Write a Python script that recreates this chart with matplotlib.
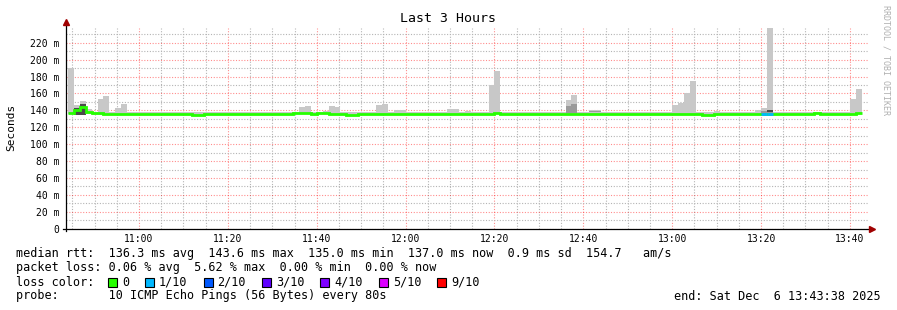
import numpy as np
import matplotlib
matplotlib.use('Agg')
import matplotlib.pyplot as plt
from matplotlib.patches import Rectangle


def hms(s):
    h, m, sec = [int(v) for v in s.split(':')]
    return h * 3600 + m * 60 + sec


# time frame of the graph (probe step = 80 s)
start_time = '10:43:38'
end_time = '13:43:38'
first_step = '10:44:00'
step_len = 80

# median rtt per step [ms]
median = [
    136.5, 141.0, 143.6, 138.5, 137.5, 136.5, 136.0, 136.3, 136.3, 136.3,
    136.3, 136.3, 136.3, 136.3, 136.3, 136.3, 136.3, 136.3, 136.3, 136.3,
    136.3, 135.0, 135.0, 136.3, 136.3, 136.3, 136.3, 136.3, 136.3, 136.3,
    136.3, 136.3, 136.3, 136.3, 136.3, 136.3, 136.3, 136.3, 137.3, 137.3,
    137.3, 136.3, 137.3, 137.3, 136.3, 136.3, 136.3, 135.0, 135.0, 136.3,
    135.2, 135.2, 135.2, 136.3, 136.3, 136.3, 136.3, 135.2, 136.3, 136.3,
    136.3, 136.3, 136.3, 136.3, 136.3, 136.3, 136.3, 136.3, 136.3, 136.3,
    136.3, 136.3, 137.3, 136.3, 136.3, 136.3, 136.3, 136.3, 136.3, 136.3,
    136.3, 136.3, 136.3, 136.3, 136.3, 136.3, 136.3, 136.3, 136.3, 136.3,
    136.3, 136.3, 136.3, 136.3, 136.3, 136.3, 136.3, 136.3, 136.3, 136.3,
    136.3, 136.3, 136.3, 136.3, 136.3, 136.3, 136.3, 135.0, 135.0, 136.3,
    136.3, 136.3, 135.2, 135.2, 135.2, 136.0, 136.0, 136.0, 136.0, 135.2,
    135.2, 135.2, 136.3, 136.3, 136.3, 136.3, 137.5, 136.3, 136.3, 136.3,
    136.3, 136.3, 136.3, 137.0,
]

# slowest ping per step [ms]
ping_hi = [
    190.0, 146.0, 151.0, 141.5, 138.0, 153.5, 157.5, 137.6, 143.0, 148.0,
    137.6, 137.6, 137.6, 137.6, 137.6, 137.6, 137.6, 137.6, 137.6, 137.6,
    137.6, 137.6, 137.6, 137.6, 137.6, 137.6, 137.6, 137.6, 137.6, 137.6,
    137.6, 137.6, 137.6, 138.5, 137.6, 137.6, 138.2, 138.2, 137.8, 144.0,
    145.2, 137.6, 137.6, 139.0, 145.0, 144.0, 137.6, 137.6, 137.6, 137.6,
    137.6, 137.6, 146.5, 147.6, 137.6, 140.5, 140.5, 137.6, 137.6, 138.5,
    137.6, 138.5, 137.6, 137.6, 141.6, 141.3, 137.6, 139.3, 137.6, 137.6,
    137.6, 170.0, 186.5, 137.6, 137.6, 137.6, 137.6, 137.6, 137.6, 137.6,
    137.6, 137.6, 137.6, 137.6, 152.3, 158.2, 137.6, 137.6, 140.3, 140.3,
    137.6, 137.6, 137.6, 137.6, 137.6, 137.6, 137.6, 137.6, 137.6, 137.6,
    137.6, 137.6, 146.4, 149.0, 160.6, 174.8, 137.6, 137.6, 137.6, 139.0,
    137.6, 137.6, 137.6, 137.6, 137.6, 137.6, 140.5, 143.0, 237.5, 137.6,
    137.6, 137.6, 137.6, 137.6, 137.6, 137.6, 137.6, 137.6, 137.6, 137.6,
    137.6, 137.6, 153.5, 165.3,
]

# fastest ping per step [ms]
ping_lo = [
    135.6, 134.8, 135.0, 135.6, 134.5, 134.5, 134.3, 134.3, 135.6, 135.6,
    135.6, 135.6, 135.6, 135.6, 135.6, 135.6, 135.6, 135.6, 134.3, 134.3,
    134.3, 134.3, 134.3, 135.6, 134.3, 134.3, 134.3, 134.3, 134.3, 134.3,
    134.3, 134.3, 135.6, 135.6, 135.6, 135.6, 135.6, 135.6, 135.6, 135.6,
    135.6, 135.6, 135.6, 135.6, 135.6, 135.6, 135.6, 134.3, 134.3, 135.6,
    134.3, 134.3, 134.3, 134.3, 134.3, 135.6, 134.3, 134.3, 134.3, 134.3,
    134.3, 134.3, 135.6, 134.3, 134.3, 134.3, 134.3, 135.6, 135.6, 135.6,
    134.3, 134.3, 135.6, 135.6, 134.3, 135.6, 135.6, 134.3, 134.3, 135.6,
    134.3, 134.3, 135.6, 134.3, 134.3, 135.6, 135.6, 135.6, 135.6, 135.6,
    135.6, 134.3, 134.3, 134.3, 135.6, 135.6, 135.6, 135.6, 135.6, 134.3,
    134.3, 134.3, 135.6, 135.6, 135.6, 135.6, 134.3, 134.3, 134.3, 135.6,
    135.6, 135.6, 134.3, 134.3, 134.3, 135.6, 135.6, 135.6, 135.6, 134.3,
    134.3, 134.3, 134.3, 135.6, 135.6, 135.6, 135.6, 135.6, 135.6, 135.6,
    135.6, 134.3, 134.3, 135.6,
]

# denser smoke (several pings close together)
dark_steps = [1, 2, 118]
dark_lo = [135.0, 135.0, 138.6]
dark_hi = [142.5, 147.0, 140.0]
mid_steps = [84, 85, 88, 89, 117, 118]
mid_lo = [137.0, 137.0, 138.3, 138.3, 137.0, 137.5]
mid_hi = [145.0, 147.6, 139.6, 139.0, 139.0, 141.0]

# steps with packet loss
loss_steps = [117, 118]
loss_level = ['1/10', '1/10']

loss_names = ['0', '1/10', '2/10', '3/10', '4/10', '5/10', '9/10']
loss_colors = ['#26ff00', '#00b8ff', '#0059ff', '#5e00ff', '#7e00ff', '#dd00ff', '#ff0000']

stats_rtt = 'median rtt:  136.3 ms avg  143.6 ms max  135.0 ms min  137.0 ms now  0.9 ms sd  154.7   am/s'
stats_loss = 'packet loss: 0.06 % avg  5.62 % max  0.00 % min  0.00 % now'
probe_text = 'probe:       10 ICMP Echo Pings (56 Bytes) every 80s'
end_text = 'end: Sat Dec  6 13:43:38 2025'

W, H = 897, 310
mono = 'DejaVu Sans Mono'

fig = plt.figure(figsize=(W / 100, H / 100), dpi=100)
fig.patch.set_facecolor('white')
ax = fig.add_axes([66 / W, (H - 228.7) / H, 802 / W, 200.7 / H])

t0 = hms(start_time)
t1 = hms(end_time)
edges = hms(first_step) + step_len * np.arange(len(median) + 1)

# smoke
ax.bar(edges[:-1], np.array(ping_hi) - np.array(ping_lo), bottom=ping_lo,
       width=step_len, align='edge', color='#c8c8c8', linewidth=0, zorder=2)
ax.bar(edges[mid_steps], np.array(mid_hi) - np.array(mid_lo), bottom=mid_lo,
       width=step_len, align='edge', color='#9a9a9a', linewidth=0, zorder=3)
ax.bar(edges[dark_steps], np.array(dark_hi) - np.array(dark_lo), bottom=dark_lo,
       width=step_len, align='edge', color='#4a4a4a', linewidth=0, zorder=3)

# median line, coloured by loss
ax.stairs(median, edges, baseline=None, color=loss_colors[0], lw=2.0, zorder=4)
for k, lvl in zip(loss_steps, loss_level):
    ax.hlines(median[k], edges[k], edges[k + 1], color=loss_colors[loss_names.index(lvl)],
              lw=2.0, zorder=5, capstyle='butt')

ax.set_xlim(t0 - 4, t1 + 26)
ax.set_ylim(0, 237.5)

xt = np.arange(hms('11:00:00'), t1, 1200)
ax.set_xticks(xt)
ax.set_xticklabels(['%d:%02d' % (v // 3600, (v % 3600) // 60) for v in xt])
ax.set_xticks(np.arange(hms('10:45:00'), t1 + 60, 300), minor=True)
yt = np.arange(0, 221, 20)
ax.set_yticks(yt)
ax.set_yticklabels(['0' if v == 0 else '%d m' % v for v in yt])
ax.set_yticks(np.arange(10, 236, 10), minor=True)

ax.grid(which='minor', color='#b4b4b4', linestyle=(0, (1, 1.5)), lw=0.8)
ax.grid(which='major', color='#ff0000', alpha=0.45, linestyle=(0, (1, 1.5)), lw=0.8)
ax.set_axisbelow(True)

ax.tick_params(which='both', length=0)
ax.tick_params(axis='x', pad=4, labelsize=7)
ax.tick_params(axis='y', pad=5, labelsize=7)
for lab in ax.get_xticklabels() + ax.get_yticklabels():
    lab.set_fontfamily(mono)
for s in ax.spines.values():
    s.set_visible(False)

# axis lines with arrows
ax.plot([0, 0], [-0.012, 1.03], transform=ax.transAxes, color='black', lw=0.9, clip_on=False, zorder=6)
ax.plot([-0.004, 1.004], [0, 0], transform=ax.transAxes, color='black', lw=0.9, clip_on=False, zorder=6)
ax.plot(0, 1.03, marker='^', ms=4, color='#a00000', transform=ax.transAxes, clip_on=False, zorder=7)
ax.plot(1.005, 0, marker='>', ms=4, color='#a00000', transform=ax.transAxes, clip_on=False, zorder=7)

fig.text(448 / W, 1 - 19 / H, 'Last 3 Hours', ha='center', va='center', fontsize=9.5, family=mono)
fig.text(11 / W, 1 - 127 / H, 'Seconds', rotation=90, ha='center', va='center', fontsize=8, family=mono)
fig.text(886 / W, 1 - 60 / H, 'RRDTOOL / TOBI OETIKER', rotation=270, ha='center', va='center',
         fontsize=6, family=mono, color='#b0b0b0')

fs = 8.5
cw = 7.1
fig.text(16 / W, 1 - 254 / H, stats_rtt, ha='left', va='center', fontsize=fs, family=mono)
fig.text(16 / W, 1 - 268 / H, stats_loss, ha='left', va='center', fontsize=fs, family=mono)
fig.text(16 / W, 1 - 282 / H, 'loss color:', ha='left', va='center', fontsize=fs, family=mono)
fig.text(16 / W, 1 - 296 / H, probe_text, ha='left', va='center', fontsize=fs, family=mono)
fig.text(881 / W, 1 - 296 / H, end_text, ha='right', va='center', fontsize=fs, family=mono)

x = 108
for name, c in zip(loss_names, loss_colors):
    fig.add_artist(Rectangle((x / W, 1 - 286.5 / H), 9 / W, 9 / H, transform=fig.transFigure,
                             facecolor=c, edgecolor='black', lw=0.8))
    fig.text((x + 14) / W, 1 - 282 / H, name, ha='left', va='center', fontsize=fs, family=mono)
    x = x + 14 + len(name) * cw + 16

fig.savefig('out.png', dpi=100, facecolor='white')
